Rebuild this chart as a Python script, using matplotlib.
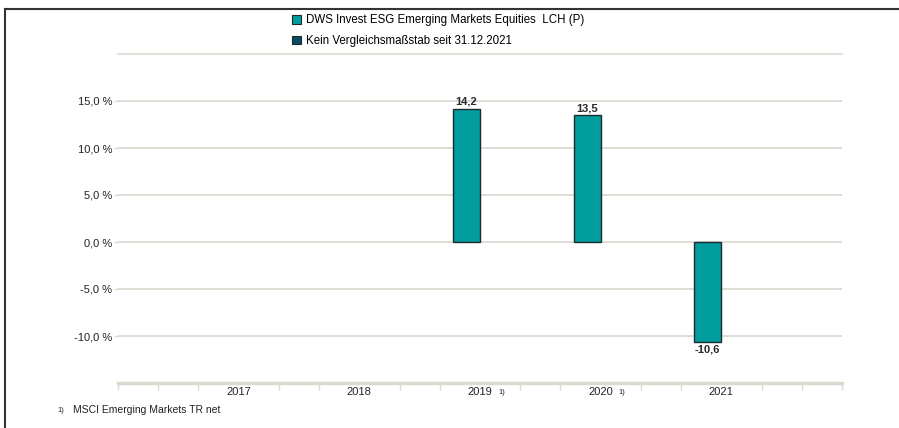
import numpy as np
import matplotlib
matplotlib.use('Agg')
import matplotlib.pyplot as plt
from matplotlib.patches import Patch
from matplotlib.lines import Line2D

plt.rcParams['font.family'] = ['Liberation Sans', 'DejaVu Sans']

# data
years = ['2017', '2018', '2019', '2020', '2021']
fund = [np.nan, np.nan, 14.2, 13.5, -10.6]
footnoted = ['2019', '2020']
fund_name = 'DWS Invest ESG Emerging Markets Equities  LCH (P)'
bench_name = 'Kein Vergleichsmaßstab seit 31.12.2021'
footnote = 'MSCI Emerging Markets TR net'
yticks = [-10, -5, 0, 5, 10, 15]

teal = '#009c9e'
navy = '#0c4a66'
grid_col = '#dcd9d1'

fig = plt.figure(figsize=(8.99, 4.28), dpi=100)
ax = fig.add_axes([118 / 899, 45 / 428, 724 / 899, 329 / 428])

x = np.arange(1, len(years) + 1)
w = 0.225
vals = np.array(fund, dtype=float)
ax.bar(x - w, vals, width=w, align='edge', color=teal,
       edgecolor='#1e2b2b', linewidth=1.0, zorder=3)

for xi, v in zip(x, vals):
    if np.isnan(v):
        continue
    txt = ('%.1f' % v).replace('.', ',')
    if v >= 0:
        ax.annotate(txt, (xi - w / 2, v), xytext=(0, 1.5), textcoords='offset points',
                    ha='center', va='bottom', fontsize=8, fontweight='bold', color='#2a2a2a')
    else:
        ax.annotate(txt, (xi - w / 2, v), xytext=(0, -2), textcoords='offset points',
                    ha='center', va='top', fontsize=8, fontweight='bold', color='#2a2a2a')

ax.set_xlim(0, 6)
ax.set_ylim(-15, 20)
ax.set_yticks(yticks)
ax.set_yticklabels([('%.1f %%' % t).replace('.', ',') for t in yticks])
ax.yaxis.grid(True, color=grid_col, linewidth=1.3, zorder=0)
ax.tick_params(axis='y', length=3, width=1, color=grid_col, pad=1,
               labelsize=8, labelcolor='#222222')

ax.set_xticks(x)
ax.set_xticklabels(years)
ax.tick_params(axis='x', length=0, pad=3, labelsize=8, labelcolor='#222222')
minor = [k / 3 for k in range(19) if k % 3 != 0 or k in (0, 18)]
ax.set_xticks(minor, minor=True)
ax.tick_params(axis='x', which='minor', length=5, width=1, color=grid_col)

for yr in footnoted:
    xi = years.index(yr) + 1
    ax.annotate('1)', (xi, 0), xycoords=('data', 'axes fraction'),
                xytext=(13, -4), textcoords='offset points',
                ha='left', va='top', fontsize=5.5, color='#222222')

for s in ['left', 'right']:
    ax.spines[s].set_visible(False)
ax.spines['top'].set_color('#e2e0d9')
ax.spines['top'].set_linewidth(1.5)
ax.spines['bottom'].set_color(grid_col)
ax.spines['bottom'].set_linewidth(2.5)

handles = [Patch(facecolor=teal, edgecolor='#1e2b2b', linewidth=0.8),
           Patch(facecolor=navy, edgecolor='#1e2b2b', linewidth=0.8)]
fig.legend(handles, [fund_name, bench_name], loc='upper left',
           bbox_to_anchor=(282 / 899, 1 - 4 / 428), frameon=False,
           handlelength=0.75, handleheight=0.75, handletextpad=0.4,
           labelspacing=0.75, fontsize=8.3)

# frame lines of the original page
fig.add_artist(Line2D([5 / 899, 1], [1 - 9 / 428, 1 - 9 / 428], color='#333333', lw=1.5))
fig.add_artist(Line2D([5 / 899, 5 / 899], [0, 1 - 9 / 428], color='#333333', lw=1.5))

fig.text(57 / 899, 1 - 410 / 428, '1)', fontsize=5.5, va='center', color='#222222')
fig.text(73 / 899, 1 - 410 / 428, footnote, fontsize=7.5, va='center', color='#222222')

fig.savefig('out.png', dpi=100)
